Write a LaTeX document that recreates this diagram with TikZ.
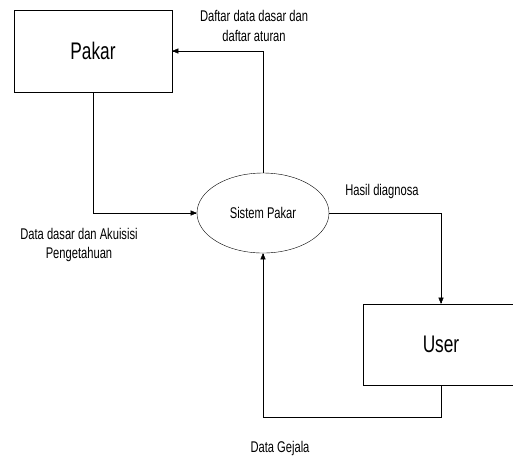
\documentclass[tikz,border=0pt]{standalone}
\usepackage{fontspec}
\setmainfont[FakeStretch=0.72]{Liberation Sans}
\usetikzlibrary{shapes.geometric, arrows}
\tikzstyle{entity} = [rectangle, minimum width=158pt, minimum height=82pt, text centered, draw=black, font=\fontsize{24}{28}\selectfont]
\tikzstyle{process} = [ellipse, minimum width=132pt, minimum height=80pt, text centered, draw=black, font=\fontsize{15.5}{18}\selectfont]
\tikzstyle{flowlabel} = [align=center, font=\fontsize{15.5}{19.5}\selectfont]
\tikzstyle{flow} = [-triangle 45]

\begin{document}
\begin{tikzpicture}[x=1pt, y=-1pt]
        \useasboundingbox (0,0) rectangle (513,459);

        \node[entity] (pakar) at (93,51) {Pakar};
        \node[process] (sistem) at (263,213) {Sistem Pakar};
        \node[entity, minimum width=156pt, minimum height=81pt] (user) at (441,344.5) {User};

        \draw [flow] (sistem.north) |- (pakar.east);
        \draw [flow] (pakar.south) |- (sistem.west);
        \draw [flow] (sistem.east) -| (user.north);
        \draw [flow] (user.south) -- ++(0,32) -| (sistem.south);

        \node[flowlabel] (lbldaftar) at (254,26) {Daftar data dasar dan\\daftar aturan};
        \node[flowlabel] (lblhasil) at (382,191) {Hasil diagnosa};
        \node[flowlabel] (lbldata) at (79,245) {Data dasar dan Akuisisi\\Pengetahuan};
        \node[flowlabel] (lblgejala) at (280,448) {Data Gejala};

    \end{tikzpicture}
\end{document}
